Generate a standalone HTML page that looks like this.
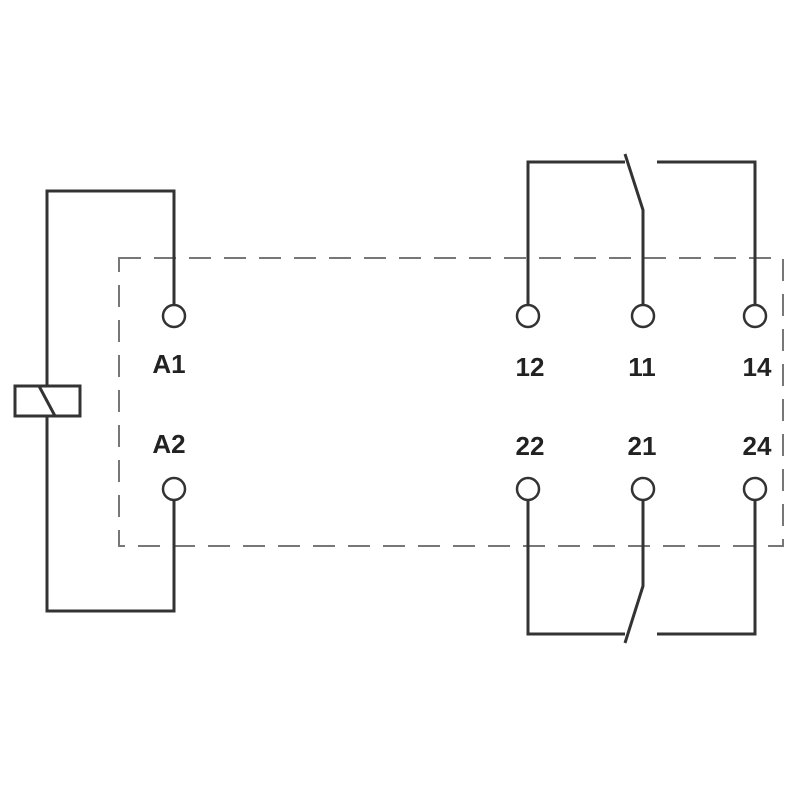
<!DOCTYPE html>
<html><head><style>body{margin:0;background:#fff}</style></head><body>
<svg width="800" height="800" xmlns="http://www.w3.org/2000/svg">
<rect width="800" height="800" fill="#fff"/>
<rect x="119" y="258" width="664" height="288" fill="none" stroke="#777" stroke-width="2" stroke-dasharray="22,13"/>
<g fill="none" stroke="#333" stroke-width="3">
<polyline points="174,305 174,191 47,191 47,611 174,611 174,500"/>
<rect x="15" y="386" width="65" height="30" fill="#fff"/>
<line x1="39" y1="386" x2="55" y2="416"/>
<polyline points="528,305 528,162 625,162"/>
<polyline points="625,154 643,210 643,305"/>
<polyline points="657,162 755,162 755,305"/>
<polyline points="528,500 528,634 625,634"/>
<polyline points="625,643 643,586 643,500"/>
<polyline points="657,634 755,634 755,500"/>
</g>
<g fill="#fff" stroke="#333" stroke-width="2.5">
<circle cx="174" cy="316" r="11"/><circle cx="174" cy="489" r="11"/>
<circle cx="528" cy="316" r="11"/><circle cx="643" cy="316" r="11"/><circle cx="755" cy="316" r="11"/>
<circle cx="528" cy="489" r="11"/><circle cx="643" cy="489" r="11"/><circle cx="755" cy="489" r="11"/>
</g>
<g font-family="Liberation Sans, sans-serif" font-weight="bold" font-size="26" fill="#222" text-anchor="middle">
<text x="169" y="373">A1</text><text x="169" y="453">A2</text>
<text x="530" y="376">12</text><text x="642" y="376">11</text><text x="757" y="376">14</text>
<text x="530" y="455">22</text><text x="642" y="455">21</text><text x="757" y="455">24</text>
</g>
</svg>
</body></html>
